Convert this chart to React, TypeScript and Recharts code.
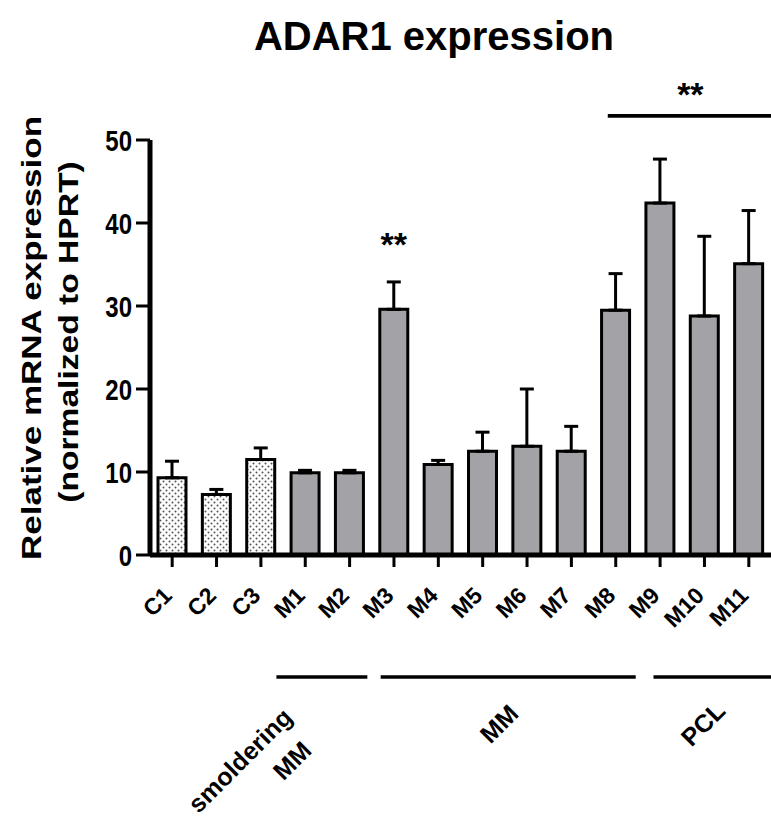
import React from 'react'
import {
  BarChart,
  Bar,
  XAxis,
  YAxis,
  ErrorBar,
  Cell,
  LabelList,
  ReferenceArea,
} from 'recharts'

// samples on the x axis
const samples = ['C1', 'C2', 'C3', 'M1', 'M2', 'M3', 'M4', 'M5', 'M6', 'M7', 'M8', 'M9', 'M10', 'M11']
// mean relative ADAR1 mRNA expression (normalized to HPRT)
const expression = [9.3, 7.3, 11.5, 9.9, 9.9, 29.6, 10.9, 12.5, 13.1, 12.5, 29.5, 42.4, 28.8, 35.1]
// upper error (SEM)
const upperError = [2.0, 0.6, 1.4, 0.3, 0.3, 3.3, 0.5, 2.3, 6.9, 3.0, 4.4, 5.3, 9.6, 6.4]
const significance = ['', '', '', '', '', '**', '', '', '', '', '', '', '', '']
const controls = ['C1', 'C2', 'C3']
const yTicks = [0, 10, 20, 30, 40, 50]

// group underlines, in sample-index units (0 = C1 ... 13 = M11)
const groupLabels = [['smoldering', 'MM'], ['MM'], ['PCL']]
const groupStart = [2.35, 4.7, 10.85]
const groupEnd = [4.4, 10.45, 13.5]
const groupLineValue = -14.7

const bracketStart = 9.82
const bracketEnd = 13.5
const bracketValue = 52.9
const bracketLabel = '**'

const FONT = '"Liberation Sans", Arial, Helvetica, sans-serif'
const BAR_GREY = '#a3a3a7'

const data = samples.map((name, i) => ({
  name,
  pos: i,
  value: expression[i],
  err: [0, upperError[i]],
  sig: significance[i],
}))

// -45 degree rotation written as a matrix
const C45 = 0.70711
const rot45 = (x: number, y: number) => `matrix(${C45},${-C45},${C45},${C45},${x},${y})`

function XTick({ x, y, payload }: any) {
  return (
    <text
      transform={rot45(x + 1, y + 28)}
      textAnchor="end"
      fontFamily={FONT}
      fontWeight="bold"
      fontSize={23}
      fill="#000"
    >
      {payload.value}
    </text>
  )
}

function YTick({ x, y, payload }: any) {
  return (
    <text
      transform={`matrix(1,0,0,1.25,${x - 2},${y + 10.5})`}
      textAnchor="end"
      fontFamily={FONT}
      fontWeight="bold"
      fontSize={24}
      fill="#000"
    >
      {payload.value}
    </text>
  )
}

function SigLabel({ x, y, width, value }: any) {
  if (!value) return null
  return (
    <text
      x={x + width / 2}
      y={y - 53}
      textAnchor="middle"
      fontFamily={FONT}
      fontWeight="bold"
      fontSize={34}
      fill="#000"
    >
      {value}
    </text>
  )
}

function RotText({ x, y, anchor, children }: any) {
  return (
    <text
      transform={rot45(x, y)}
      textAnchor={anchor}
      fontFamily={FONT}
      fontWeight="bold"
      fontSize={25}
      fill="#000"
    >
      {children}
    </text>
  )
}

function GroupLabel({ viewBox, lines }: any) {
  const cx = viewBox.x + viewBox.width / 2
  const cy = viewBox.y + viewBox.height / 2
  if (lines.length === 1) {
    return (
      <RotText x={cx - 3} y={cy + 53} anchor="middle">
        {lines[0]}
      </RotText>
    )
  }
  return (
    <g>
      <RotText x={cx - 28} y={cy + 42} anchor="end">
        {lines[0]}
      </RotText>
      <RotText x={cx - 9} y={cy + 75} anchor="end">
        {lines[1]}
      </RotText>
    </g>
  )
}

function BracketLabel({ viewBox, text }: any) {
  const cx = viewBox.x + viewBox.width / 2
  return (
    <text
      x={cx + 1}
      y={viewBox.y - 8}
      textAnchor="middle"
      fontFamily={FONT}
      fontWeight="bold"
      fontSize={34}
      fill="#000"
    >
      {text}
    </text>
  )
}

export default function App() {
  return (
    <div style={{ position: 'absolute', left: 0, top: 0, width: 771, height: 828, background: '#fff' }}>
      <BarChart
        width={771}
        height={828}
        data={data}
        margin={{ top: 140, right: 0, bottom: 0, left: 0 }}
      >
        <defs>
          <pattern id="dots" width="6" height="6" patternUnits="userSpaceOnUse">
            <rect width="6" height="6" fill="#fff" />
            <circle cx="1.5" cy="1.5" r="1" fill="#555" />
            <circle cx="4.5" cy="4.5" r="1" fill="#555" />
          </pattern>
        </defs>
        <XAxis
          dataKey="name"
          interval={0}
          height={273}
          tick={<XTick />}
          tickSize={12}
          axisLine={{ stroke: '#000', strokeWidth: 5 }}
          tickLine={{ stroke: '#000', strokeWidth: 3 }}
        />
        <XAxis
          xAxisId="idx"
          dataKey="pos"
          type="number"
          domain={[-0.5, 13.5]}
          allowDataOverflow
          hide
        />
        <YAxis
          domain={[0, 50]}
          ticks={yTicks}
          width={150}
          tick={<YTick />}
          tickSize={14}
          axisLine={{ stroke: '#000', strokeWidth: 5 }}
          tickLine={{ stroke: '#000', strokeWidth: 3 }}
        />
        <Bar
          dataKey="value"
          barSize={28}
          fill={BAR_GREY}
          stroke="#000"
          strokeWidth={3}
          isAnimationActive={false}
        >
          {data.map((d) => (
            <Cell key={d.name} fill={controls.includes(d.name) ? 'url(#dots)' : BAR_GREY} />
          ))}
          <ErrorBar dataKey="err" direction="y" width={7} stroke="#000" strokeWidth={3} />
          <LabelList dataKey="sig" content={<SigLabel />} />
        </Bar>
        {groupLabels.map((lines, i) => (
          <ReferenceArea
            key={lines.join(' ')}
            xAxisId="idx"
            x1={groupStart[i]}
            x2={groupEnd[i]}
            y1={groupLineValue - 0.22}
            y2={groupLineValue + 0.22}
            fill="#000"
            fillOpacity={1}
            stroke="none"
            ifOverflow="visible"
            label={(p: any) => <GroupLabel viewBox={p.viewBox} lines={lines} />}
          />
        ))}
        <ReferenceArea
          xAxisId="idx"
          x1={bracketStart}
          x2={bracketEnd}
          y1={bracketValue - 0.22}
          y2={bracketValue + 0.22}
          fill="#000"
          fillOpacity={1}
          stroke="none"
          ifOverflow="visible"
          label={(p: any) => <BracketLabel viewBox={p.viewBox} text={bracketLabel} />}
        />
      </BarChart>
      <svg
        width={771}
        height={828}
        style={{ position: 'absolute', left: 0, top: 0, pointerEvents: 'none' }}
      >
        <text
          x={434}
          y={50}
          textAnchor="middle"
          fontFamily={FONT}
          fontWeight="bold"
          fontSize={40}
          fill="#000"
        >
          ADAR1 expression
        </text>
        <g fontFamily={FONT} fontWeight="bold" fontSize={28} fill="#000" textAnchor="middle">
          <text transform="translate(41,338) scale(1,1.25) rotate(-90)">Relative mRNA expression</text>
          <text transform="translate(78,332) scale(1,1.2) rotate(-90)">(normalized to HPRT)</text>
        </g>
      </svg>
    </div>
  )
}
